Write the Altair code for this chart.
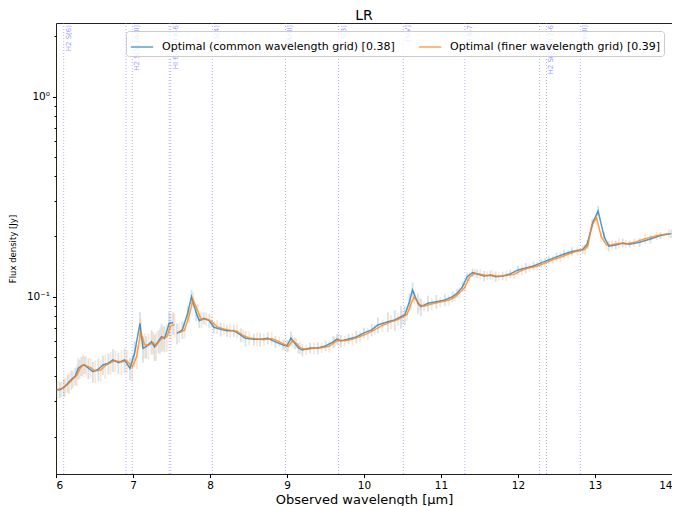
import altair as alt
import pandas as pd

# ---------------- data ----------------
label_common = "Optimal (common wavelength grid) [0.38]"
label_finer = "Optimal (finer wavelength grid) [0.39]"

wave_common = [6.00, 6.05, 6.10, 6.15, 6.20, 6.25, 6.29, 6.33, 6.37, 6.42,
               6.48, 6.55, 6.61, 6.68, 6.74, 6.81, 6.89, 6.96, 7.02, 7.09,
               7.13, 7.17, 7.24, 7.28, 7.33, 7.37, 7.41, 7.47, 7.52, 7.57,
               7.64, 7.71, 7.76, 7.82, 7.86, 7.92, 7.99, 8.05, 8.14, 8.22,
               8.31, 8.40, 8.46, 8.57, 8.65, 8.75, 8.85, 8.95, 9.00, 9.05,
               9.10, 9.15, 9.20, 9.30, 9.40, 9.50, 9.60, 9.65, 9.70, 9.80,
               9.90, 10.00, 10.10, 10.18, 10.31, 10.40, 10.48, 10.53, 10.59, 10.63,
               10.70, 10.74, 10.83, 10.94, 11.05, 11.15, 11.21, 11.28, 11.34, 11.41,
               11.47, 11.56, 11.64, 11.71, 11.80, 11.90, 12.00, 12.10, 12.20, 12.30,
               12.40, 12.50, 12.60, 12.70, 12.84, 12.90, 12.97, 13.04, 13.12, 13.18,
               13.27, 13.36, 13.45, 13.58, 13.72, 13.85, 13.99]

flux_common = [0.0342, 0.0343, 0.0352, 0.0368, 0.0385, 0.0401, 0.0439, 0.0451, 0.0456, 0.0439,
               0.0422, 0.0434, 0.0456, 0.0465, 0.0483, 0.0468, 0.0483, 0.0439, 0.0521, 0.0736,
               0.0552, 0.0562, 0.0596, 0.0562, 0.0600, 0.0631, 0.0619, 0.0736, 0.0740, 0.0656,
               0.0682, 0.0826, 0.1000, 0.0830, 0.0759, 0.0780, 0.0759, 0.0703, 0.0687, 0.0676,
               0.0676, 0.0643, 0.0619, 0.0612, 0.0612, 0.0620, 0.0594, 0.0573, 0.0567, 0.0620,
               0.0587, 0.0554, 0.0541, 0.0554, 0.0554, 0.0567, 0.0594, 0.0614, 0.0600, 0.0614,
               0.0629, 0.0659, 0.0682, 0.0722, 0.0750, 0.0765, 0.0794, 0.0810, 0.0944, 0.1080,
               0.0927, 0.0891, 0.0927, 0.0944, 0.0963, 0.1000, 0.1040, 0.1122, 0.1259, 0.1318,
               0.1299, 0.1269, 0.1284, 0.1259, 0.1270, 0.1300, 0.1360, 0.1390, 0.1424, 0.1475,
               0.1527, 0.1580, 0.1635, 0.1683, 0.1722, 0.1834, 0.2336, 0.2680, 0.1990, 0.1790,
               0.1810, 0.1855, 0.1830, 0.1870, 0.1940, 0.2020, 0.2065]

# fractional 1-sigma uncertainties
err_common = [0.08, 0.09, 0.10, 0.10, 0.11, 0.10, 0.12, 0.11, 0.10, 0.12,
              0.12, 0.13, 0.11, 0.12, 0.13, 0.12, 0.14, 0.13, 0.15, 0.14,
              0.15, 0.13, 0.14, 0.15, 0.13, 0.16, 0.15, 0.14, 0.13, 0.12,
              0.10, 0.09, 0.08, 0.09, 0.08, 0.07, 0.08, 0.07, 0.08, 0.07,
              0.07, 0.08, 0.09, 0.07, 0.08, 0.07, 0.07, 0.06, 0.07, 0.08,
              0.07, 0.06, 0.07, 0.06, 0.07, 0.06, 0.07, 0.06, 0.07, 0.06,
              0.07, 0.06, 0.07, 0.09, 0.11, 0.12, 0.13, 0.11, 0.10, 0.09,
              0.12, 0.10, 0.09, 0.08, 0.07, 0.06, 0.05, 0.06, 0.05, 0.05,
              0.05, 0.06, 0.05, 0.06, 0.05, 0.05, 0.05, 0.06, 0.05, 0.05,
              0.05, 0.05, 0.05, 0.05, 0.05, 0.05, 0.05, 0.06, 0.06, 0.06,
              0.05, 0.05, 0.04, 0.05, 0.05, 0.04, 0.05]

wave_finer = [6.02, 6.07, 6.12, 6.17, 6.22, 6.27, 6.31, 6.35, 6.39, 6.45,
              6.51, 6.58, 6.64, 6.71, 6.77, 6.85, 6.92, 6.99, 7.05, 7.10,
              7.15, 7.20, 7.26, 7.30, 7.35, 7.39, 7.44, 7.49, 7.54, 7.60,
              7.67, 7.73, 7.78, 7.84, 7.89, 7.95, 8.02, 8.09, 8.18, 8.26,
              8.35, 8.43, 8.51, 8.61, 8.70, 8.80, 8.90, 8.97, 9.02, 9.07,
              9.12, 9.17, 9.25, 9.35, 9.45, 9.55, 9.62, 9.67, 9.75, 9.85,
              9.95, 10.05, 10.14, 10.24, 10.35, 10.44, 10.50, 10.56, 10.61, 10.65,
              10.72, 10.78, 10.88, 10.99, 11.10, 11.18, 11.24, 11.31, 11.37, 11.44,
              11.51, 11.60, 11.67, 11.75, 11.85, 11.95, 12.05, 12.15, 12.25, 12.35,
              12.45, 12.55, 12.65, 12.77, 12.87, 12.91, 12.96, 13.02, 13.08, 13.15,
              13.22, 13.31, 13.40, 13.51, 13.65, 13.80, 13.96]

flux_finer = [0.0345, 0.0346, 0.0355, 0.0370, 0.0388, 0.0405, 0.0436, 0.0455, 0.0452, 0.0442,
              0.0425, 0.0430, 0.0452, 0.0468, 0.0478, 0.0472, 0.0478, 0.0445, 0.0505, 0.0668,
              0.0575, 0.0570, 0.0590, 0.0570, 0.0605, 0.0625, 0.0630, 0.0715, 0.0725, 0.0660,
              0.0680, 0.0805, 0.0965, 0.0850, 0.0765, 0.0775, 0.0752, 0.0708, 0.0690, 0.0680,
              0.0672, 0.0640, 0.0622, 0.0615, 0.0610, 0.0618, 0.0596, 0.0575, 0.0565, 0.0600,
              0.0585, 0.0556, 0.0545, 0.0552, 0.0556, 0.0565, 0.0592, 0.0608, 0.0602, 0.0612,
              0.0632, 0.0655, 0.0685, 0.0718, 0.0748, 0.0768, 0.0790, 0.0815, 0.0920, 0.0995,
              0.0915, 0.0895, 0.0920, 0.0940, 0.0960, 0.0995, 0.1045, 0.1115, 0.1250, 0.1310,
              0.1295, 0.1272, 0.1280, 0.1262, 0.1275, 0.1295, 0.1355, 0.1395, 0.1420, 0.1470,
              0.1530, 0.1575, 0.1630, 0.1688, 0.1725, 0.1820, 0.2280, 0.2475, 0.2000, 0.1810,
              0.1815, 0.1850, 0.1835, 0.1868, 0.1945, 0.2015, 0.2070]

err_finer = [0.10, 0.09, 0.11, 0.12, 0.10, 0.12, 0.11, 0.13, 0.12, 0.11,
             0.13, 0.12, 0.14, 0.13, 0.12, 0.14, 0.13, 0.15, 0.14, 0.16,
             0.14, 0.15, 0.13, 0.16, 0.15, 0.14, 0.16, 0.15, 0.14, 0.11,
             0.09, 0.08, 0.09, 0.08, 0.09, 0.08, 0.07, 0.08, 0.07, 0.08,
             0.08, 0.07, 0.08, 0.08, 0.07, 0.08, 0.06, 0.07, 0.06, 0.07,
             0.06, 0.07, 0.06, 0.07, 0.06, 0.07, 0.06, 0.07, 0.06, 0.07,
             0.06, 0.07, 0.06, 0.07, 0.08, 0.07, 0.08, 0.07, 0.06, 0.07,
             0.07, 0.06, 0.07, 0.06, 0.06, 0.05, 0.06, 0.05, 0.06, 0.05,
             0.06, 0.05, 0.06, 0.05, 0.06, 0.05, 0.06, 0.05, 0.05, 0.06,
             0.05, 0.06, 0.05, 0.05, 0.06, 0.05, 0.06, 0.05, 0.06, 0.05,
             0.05, 0.06, 0.05, 0.05, 0.06, 0.05, 0.05]

gap_at = 7.555  # data gap near 7.55 um

line_waves = [6.10, 6.91, 6.99, 7.47, 7.49, 8.03, 8.98, 9.67, 10.51, 11.31, 12.28, 12.37, 12.81]
line_labels = ["H2 S(6)", "", "H2 S(5) [ArII]", "", "HI 6-5 HI 8-6", "H2 S(4)", "[ArIII]",
               "H2 S(3)", "[SIV]", "HI 9-7", "", "H2 S(2) HI 7-6", "[NeII]"]

x_ticks = [6, 7, 8, 9, 10, 11, 12, 13, 14]
y_ticks = [0.02, 0.03, 0.04, 0.05, 0.06, 0.07, 0.08, 0.09, 0.1,
           0.2, 0.3, 0.4, 0.5, 0.6, 0.7, 0.8, 0.9, 1, 2]

# ---------------- build tables ----------------
rows = []
for name, waves, flux, err in [(label_common, wave_common, flux_common, err_common),
                               (label_finer, wave_finer, flux_finer, err_finer)]:
    for w, f, e in zip(waves, flux, err):
        rows.append(dict(wave=w, flux=f, lo=f * (1 - e), hi=f * (1 + e),
                         series=name, seg=int(w > gap_at)))
df = pd.DataFrame(rows)
lines_df = pd.DataFrame({"wave": line_waves, "label": line_labels})
labels_df = lines_df[lines_df["label"] != ""]

FONT = "DejaVu Sans"
x_scale = alt.Scale(domain=[6, 14], nice=False, zero=False)
y_scale = alt.Scale(type="log", domain=[0.013, 2.33], nice=False)
color_scale = alt.Scale(domain=[label_common, label_finer], range=["#1f77b4", "#ff7f0e"])

legend = alt.Legend(
    title=None, orient="top-right", offset=8, direction="horizontal", columns=2,
    symbolType="stroke", symbolSize=500, symbolStrokeWidth=1.5, symbolOpacity=0.7,
    labelFontSize=11, labelFont=FONT, labelColor="black", labelLimit=500, labelOffset=8,
    fillColor="rgba(255,255,255,0.8)", strokeColor="#cccccc", cornerRadius=3,
    padding=4, columnPadding=20)

x_axis = alt.Axis(values=x_ticks, format="d", title="Observed wavelength [μm]",
                  grid=False, domain=False, tickSize=3.5, tickColor="black",
                  labelFontSize=10.5, labelColor="black", labelFont=FONT, labelPadding=3,
                  titleFontSize=13, titleFontWeight="normal", titleColor="black",
                  titleFont=FONT, titleBaseline="top", titleY=19)
y_axis = alt.Axis(values=y_ticks, title="Flux density [Jy]", grid=False, domain=False,
                  labelExpr="datum.value == 1 ? '10⁰' : (datum.value == 0.1 ? '10⁻¹' : '')",
                  tickSize={"condition": {"test": "datum.value == 1 || datum.value == 0.1",
                                          "value": 3.5}, "value": 2},
                  tickColor="black", labelFontSize=10.5, labelColor="black", labelFont=FONT,
                  labelPadding=3, titleFontSize=8.5, titleFontWeight="normal",
                  titleColor="black", titleFont=FONT, titleX=-39)

vlines = alt.Chart(lines_df).mark_rule(
    color="#6f6fff", strokeDash=[1, 2], strokeWidth=1, opacity=0.55
).encode(x=alt.X("wave:Q", scale=x_scale, axis=x_axis))

vlabels = alt.Chart(labels_df).mark_text(
    angle=270, align="right", baseline="top", fontSize=7, font=FONT,
    color="#6f6fff", opacity=0.7, dy=1
).encode(x=alt.X("wave:Q", scale=x_scale), y=alt.value(2), text="label:N")

errbars = alt.Chart(df).mark_rule(strokeWidth=1.8, opacity=0.2, clip=True).encode(
    x=alt.X("wave:Q", scale=x_scale),
    y=alt.Y("lo:Q", scale=y_scale, axis=y_axis),
    y2="hi:Q",
    color=alt.Color("series:N", scale=color_scale, legend=legend),
)

spectra = alt.Chart(df).mark_line(strokeWidth=1.5, opacity=0.75, clip=True).encode(
    x=alt.X("wave:Q", scale=x_scale),
    y=alt.Y("flux:Q", scale=y_scale),
    color=alt.Color("series:N", scale=color_scale, legend=legend),
    detail="seg:N",
)

chart = alt.layer(vlines, vlabels, errbars, spectra).properties(
    width=616, height=451,
    title=alt.Title("LR", fontSize=14, fontWeight="normal", font=FONT, color="black",
                    anchor="middle", offset=0),
    autosize=alt.AutoSizeParams(type="none"),
    padding={"left": 48, "top": 15, "right": 0, "bottom": 32},
).configure_view(stroke="#222222", strokeWidth=1)

chart.save("out.html", embed_options={"renderer": "svg", "actions": False})
